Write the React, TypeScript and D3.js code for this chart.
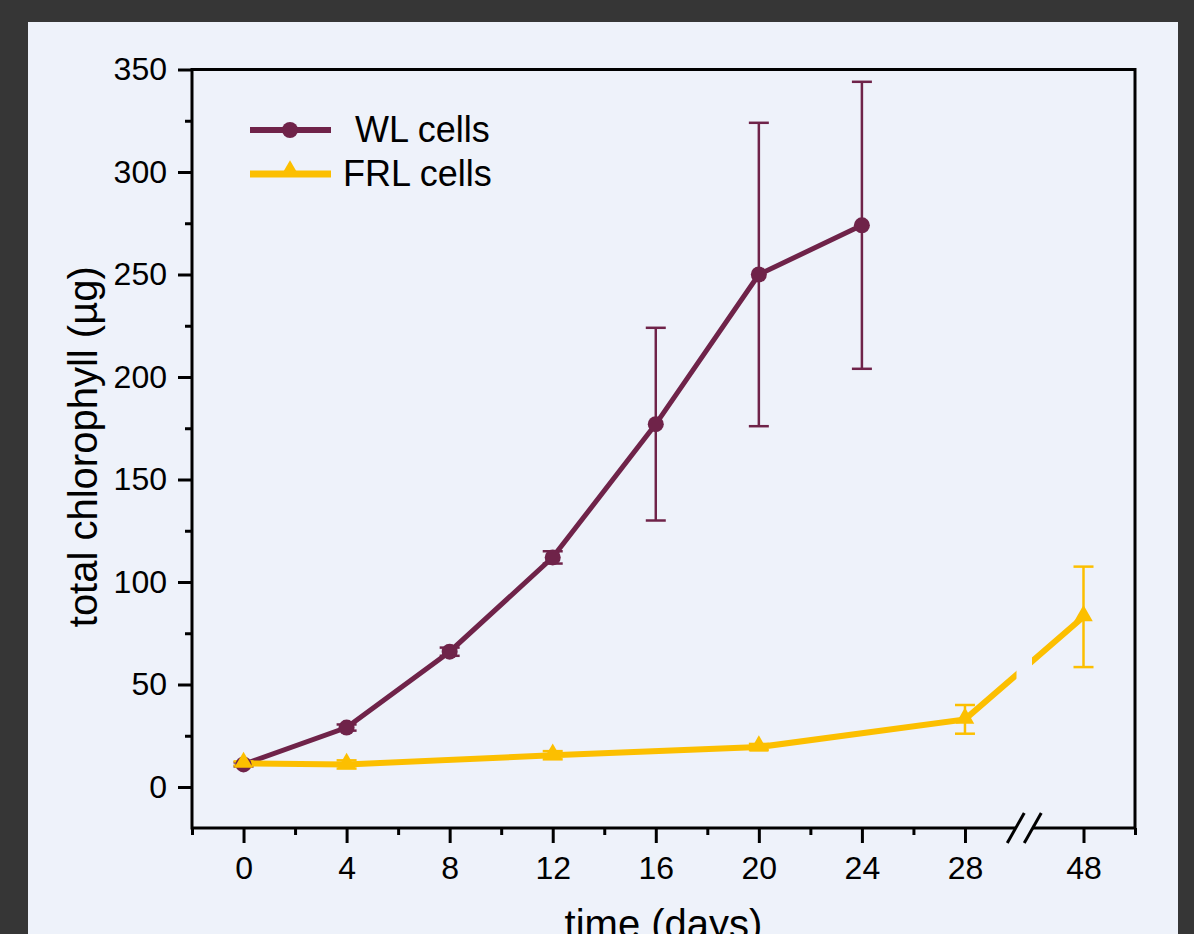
import React, { useEffect, useRef } from 'react'
import * as d3 from 'd3'

// days after inoculation
const wlDays = [0, 4, 8, 12, 16, 20, 24]
const wlValues = [11, 29, 66, 112, 177, 250, 274]
const wlErrors = [1, 1.5, 2, 3, 47, 74, 70]

const frlDays = [0, 4, 12, 20, 28, 48]
const frlValues = [11.5, 11, 15.5, 19.5, 33, 83]
const frlErrors = [1, 2, 2, 1.5, 7, 24.5]

const xMajorTicks = [0, 4, 8, 12, 16, 20, 24, 28, 48]
const xMinorTicks = [-2, 2, 6, 10, 14, 18, 22, 26, 50]
const yMajorTicks = [0, 50, 100, 150, 200, 250, 300, 350]
const yMinorTicks = [25, 75, 125, 175, 225, 275, 325]

const WL = '#6f2349'
const FRL = '#fcbf00'
const PANEL = '#eef2fa'
const FONT = '"Liberation Sans", Arial, sans-serif'

const App = () => {
  const ref = useRef<SVGSVGElement>(null)

  useEffect(() => {
    document.body.style.margin = '0'
    main()
  }, [])

  const main = () => {
    const svg = d3.select(ref.current)
    svg.selectAll('*').remove()
    const width = 1194,
      height = 934
    const left = 192,
      right = 1135,
      top = 69.5,
      bottom = 828

    svg.append('rect').attr('width', width).attr('height', height).attr('fill', '#363636')
    svg.append('rect').attr('x', 28).attr('y', 22).attr('width', 1150).attr('height', 930).attr('fill', PANEL)

    // broken x axis: 30..46 collapsed into a small gap
    const x = d3.scaleLinear().domain([-2, 30, 46, 50]).range([left, 1016.5, 1032, right])
    const y = d3.scaleLinear().domain([-20, 350]).range([bottom, top])
    const gapMid = (x(30) + x(46)) / 2

    const g = svg.append('g')

    const series = [
      { days: wlDays, values: wlValues, errors: wlErrors, color: WL, width: 5 },
      { days: frlDays, values: frlValues, errors: frlErrors, color: FRL, width: 6 },
    ]

    series.forEach((s) => {
      const pts = s.days.map((d, i) => ({ d, v: s.values[i], e: s.errors[i] }))
      const eb = g.append('g').attr('stroke', s.color).attr('stroke-width', 2.5)
      pts.forEach((p) => {
        eb.append('line').attr('x1', x(p.d)).attr('x2', x(p.d)).attr('y1', y(p.v - p.e)).attr('y2', y(p.v + p.e))
        ;[p.v - p.e, p.v + p.e].forEach((v) => {
          eb.append('line').attr('x1', x(p.d) - 10).attr('x2', x(p.d) + 10).attr('y1', y(v)).attr('y2', y(v))
        })
      })
      g.append('path')
        .datum(pts)
        .attr('fill', 'none')
        .attr('stroke', s.color)
        .attr('stroke-width', s.width)
        .attr('d', d3.line<any>().x((p) => x(p.d)).y((p) => y(p.v)))
    })

    // markers
    g.selectAll('.wl')
      .data(wlDays)
      .enter()
      .append('circle')
      .attr('cx', (d) => x(d))
      .attr('cy', (d, i) => y(wlValues[i]))
      .attr('r', 8)
      .attr('fill', WL)
    const tri = d3.symbol().type(d3.symbolTriangle).size(150)
    g.selectAll('.frl')
      .data(frlDays)
      .enter()
      .append('path')
      .attr('d', tri)
      .attr('transform', (d, i) => `translate(${x(d)},${y(frlValues[i]) - 1})`)
      .attr('fill', FRL)

    // gap in the data where the axis is broken
    svg.append('rect')
      .attr('x', x(30))
      .attr('y', top + 2)
      .attr('width', x(46) - x(30))
      .attr('height', bottom - top - 4)
      .attr('fill', PANEL)

    // axes
    const yAxis = svg.append('g').attr('transform', `translate(${left},0)`)
    yAxis.call(d3.axisLeft(y).tickValues(yMajorTicks).tickSize(14).tickPadding(11))
    yAxis.append('g').call(d3.axisLeft(y).tickValues(yMinorTicks).tickSize(7).tickFormat(() => ''))

    const xAxis = svg.append('g').attr('transform', `translate(0,${bottom})`)
    xAxis.call(d3.axisBottom(x).tickValues(xMajorTicks).tickSize(15).tickPadding(13).tickFormat(d3.format('d')))
    xAxis.append('g').call(d3.axisBottom(x).tickValues(xMinorTicks).tickSize(7).tickFormat(() => ''))

    svg.selectAll('.domain').remove()
    svg.selectAll('.tick line').attr('stroke', '#000').attr('stroke-width', 3)
    svg.selectAll('.tick text').attr('font-family', FONT).attr('font-size', 32).attr('fill', '#000')

    const frame = svg.append('g').attr('stroke', '#000').attr('stroke-width', 3).attr('fill', 'none')
    frame.append('path').attr('d', `M${gapMid - 8.5},${bottom}H${left}V${top}H${right}V${bottom}H${gapMid + 8.5}`)
    ;[-8.5, 8.5].forEach((o) => {
      frame.append('line')
        .attr('x1', gapMid + o - 8.5)
        .attr('y1', bottom + 15)
        .attr('x2', gapMid + o + 8.5)
        .attr('y2', bottom - 15)
    })

    // axis titles
    svg.append('text')
      .attr('x', (left + right) / 2)
      .attr('y', 938)
      .attr('text-anchor', 'middle')
      .attr('font-family', FONT)
      .attr('font-size', 40)
      .text('time (days)')
    svg.append('text')
      .attr('transform', `translate(97,${(top + bottom) / 2 - 2}) rotate(-90)`)
      .attr('text-anchor', 'middle')
      .attr('font-family', FONT)
      .attr('font-size', 40)
      .text('total chlorophyll (µg)')

    // legend
    const legend = svg.append('g')
    const items = [
      { label: 'WL cells', color: WL, ly: 130, tx: 355, ty: 142, w: 6 },
      { label: 'FRL cells', color: FRL, ly: 174, tx: 343, ty: 186, w: 7 },
    ]
    items.forEach((it, i) => {
      legend.append('line')
        .attr('x1', 250)
        .attr('x2', 331)
        .attr('y1', it.ly)
        .attr('y2', it.ly)
        .attr('stroke', it.color)
        .attr('stroke-width', it.w)
      if (i === 0) legend.append('circle').attr('cx', 290).attr('cy', it.ly).attr('r', 8).attr('fill', it.color)
      else legend.append('path').attr('d', tri).attr('transform', `translate(290,${it.ly - 3})`).attr('fill', it.color)
      legend.append('text')
        .attr('x', it.tx)
        .attr('y', it.ty)
        .attr('font-family', FONT)
        .attr('font-size', 36)
        .text(it.label)
    })
  }

  return (
    <div style={{ width: 1194, height: 934 }}>
      <svg ref={ref} width={1194} height={934} style={{ display: 'block' }}></svg>
    </div>
  )
}

export default App
